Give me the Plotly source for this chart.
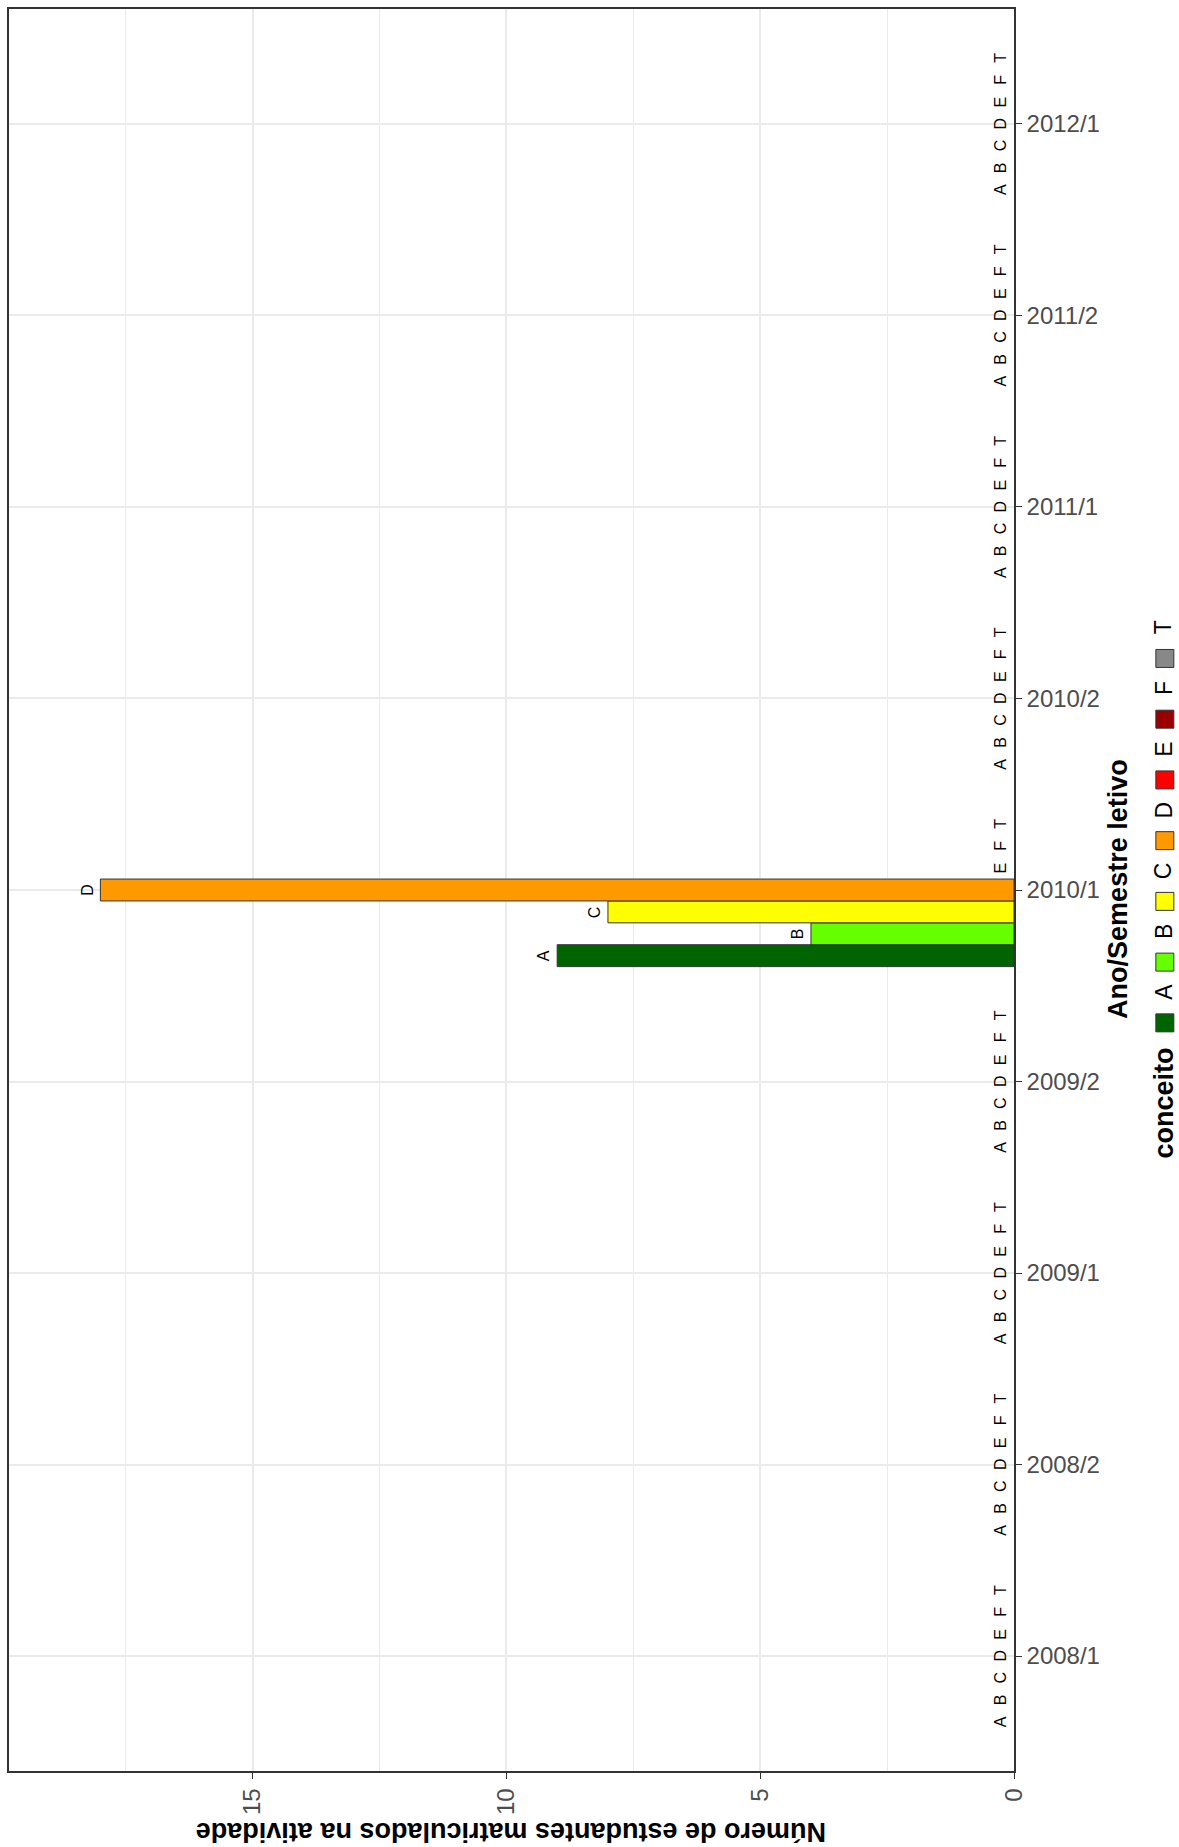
import plotly.graph_objects as go

# ── data ──
semestres = ["2008/1", "2008/2", "2009/1", "2009/2", "2010/1",
             "2010/2", "2011/1", "2011/2", "2012/1"]
conceitos = ["A", "B", "C", "D", "E", "F", "T"]
cores = ["#006400", "#66FF00", "#FFFF00", "#FF9900", "#FF0000", "#990000", "#888888"]

qtd_A = [0, 0, 0, 0, 9, 0, 0, 0, 0]
qtd_B = [0, 0, 0, 0, 4, 0, 0, 0, 0]
qtd_C = [0, 0, 0, 0, 8, 0, 0, 0, 0]
qtd_D = [0, 0, 0, 0, 18, 0, 0, 0, 0]
qtd_E = [0, 0, 0, 0, 0, 0, 0, 0, 0]
qtd_F = [0, 0, 0, 0, 0, 0, 0, 0, 0]
qtd_T = [0, 0, 0, 0, 0, 0, 0, 0, 0]
contagens = [qtd_A, qtd_B, qtd_C, qtd_D, qtd_E, qtd_F, qtd_T]

valor_ticks = [0, 5, 10, 15]

FONT = "Liberation Sans, Arial, sans-serif"
W, H = 1179, 1847
L, R, T, B = 8, 1014, 7, 1771  # panel edges in px
BARGAP = 0.2


def px_x(px):
    return (px - L) / (R - L)


def px_y(py):
    return (B - py) / (B - T)


fig = go.Figure()
for conc, cor, vals in zip(conceitos, cores, contagens):
    fig.add_trace(go.Bar(
        y=semestres, x=vals, orientation='h', name=conc,
        marker=dict(color=cor, line=dict(color='#333333',
                                         width=[1 if v > 0 else 0 for v in vals])),
        cliponaxis=False, showlegend=False
    ))

annotations = []

# bar labels (rotated letters just beyond the end of each bar, also for zero counts)
n = len(conceitos)
slot = (1 - BARGAP) / n
for j, (conc, vals) in enumerate(zip(conceitos, contagens)):
    off = (j - (n - 1) / 2) * slot
    for i, v in enumerate(vals):
        annotations.append(dict(
            x=v, y=i + off, xref='x', yref='y', text=conc, showarrow=False,
            textangle=-90, xanchor='right', yanchor='middle', xshift=-3,
            font=dict(family=FONT, size=16, color='black')))

# legend drawn rotated, like the reference
shapes = []
key_y0, step = 1022, -60.8
for i, (conc, cor) in enumerate(zip(conceitos, cores)):
    cy = key_y0 + i * step
    shapes.append(dict(type='rect', xref='paper', yref='paper',
                       x0=px_x(1156), x1=px_x(1174), y0=px_y(cy + 9), y1=px_y(cy - 9),
                       fillcolor=cor, line=dict(color='#333333', width=1)))
    annotations.append(dict(x=px_x(1164), y=px_y(cy - 31), xref='paper', yref='paper',
                            text=conc, showarrow=False, textangle=-90,
                            xanchor='center', yanchor='middle',
                            font=dict(family=FONT, size=23, color='black')))

annotations += [
    dict(x=px_x(1164), y=px_y(1102), xref='paper', yref='paper', text="<b>conceito</b>",
         showarrow=False, textangle=-90, xanchor='center', yanchor='middle',
         font=dict(family=FONT, size=27, color='black')),
    dict(x=px_x(1118), y=px_y(888), xref='paper', yref='paper', text="<b>Ano/Semestre letivo</b>",
         showarrow=False, textangle=-90, xanchor='center', yanchor='middle',
         font=dict(family=FONT, size=27, color='black')),
    dict(x=px_x(511), y=px_y(1832), xref='paper', yref='paper',
         text="<b>Número de estudantes matriculados na atividade</b>",
         showarrow=False, textangle=180, xanchor='center', yanchor='middle',
         font=dict(family=FONT, size=27, color='black')),
]

fig.update_layout(
    width=W, height=H,
    margin=dict(l=L, r=W - R, t=T, b=H - B),
    barmode='group', bargap=BARGAP, bargroupgap=0,
    paper_bgcolor='white', plot_bgcolor='white',
    font=dict(family=FONT),
    shapes=shapes, annotations=annotations,
    xaxis=dict(
        range=[19.8, 0], tickvals=valor_ticks, tickangle=-90,
        ticks='outside', ticklen=6, tickcolor='#333333',
        tickfont=dict(family=FONT, size=24, color='#4d4d4d'),
        showgrid=True, gridcolor='#EBEBEB', gridwidth=2,
        minor=dict(dtick=2.5, tick0=0, showgrid=True, gridcolor='#EBEBEB', gridwidth=1),
        zeroline=False, showline=True, linecolor='#333333', linewidth=1.5, mirror=True
    ),
    yaxis=dict(
        side='right', categoryorder='array', categoryarray=semestres,
        range=[-0.6, len(semestres) - 0.4],
        ticks='outside', ticklen=6, tickcolor='#333333',
        tickfont=dict(family=FONT, size=24, color='#4d4d4d'),
        showgrid=True, gridcolor='#EBEBEB', gridwidth=2,
        zeroline=False, showline=True, linecolor='#333333', linewidth=1.5, mirror=True
    ),
)

fig.write_html("out.html", config={'displayModeBar': False},
               post_script="document.body.style.margin='0px';")
